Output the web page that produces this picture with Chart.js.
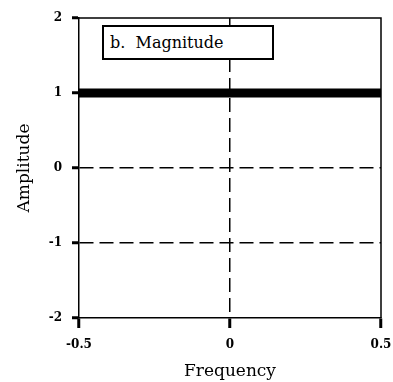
<!DOCTYPE html>
<html>
<head>
<meta charset="utf-8">
<script src="https://cdn.jsdelivr.net/npm/chart.js@4"></script>
<style>
  html, body { margin: 0; padding: 0; background: #fff; }
  #wrap { position: relative; width: 393px; height: 382px; }
  #legendBox {
    position: absolute; left: 102px; top: 25px; width: 162px; height: 31px;
    border: 2px solid #000; background: #fff;
    font-family: "DejaVu Serif", "Liberation Serif", serif; font-size: 16px;
    line-height: 31px; padding-left: 6px; box-sizing: content-box; white-space: pre;
    color: #000;
  }
</style>
</head>
<body>
<div id="wrap">
  <canvas id="c" width="393" height="382"></canvas>
  <div id="legendBox">b.  Magnitude</div>
</div>
<script>
// Frequency domain magnitude: flat at 1 across the whole band
const frequency = [-0.5, 0.5];
const magnitude = [1, 1];
const xTicks = [-0.5, 0, 0.5];
const yTicks = [-2, -1, 0, 1, 2];

const FONT = '"DejaVu Serif", "Liberation Serif", serif';

// Solid top and right edges of the plotting frame
const framePlugin = {
  id: 'frame',
  afterDraw(chart) {
    const { ctx, chartArea: a } = chart;
    ctx.save();
    ctx.strokeStyle = '#000';
    ctx.lineWidth = 1.5;
    ctx.setLineDash([]);
    ctx.beginPath();
    ctx.moveTo(a.left, a.top);
    ctx.lineTo(a.right, a.top);
    ctx.lineTo(a.right, a.bottom);
    ctx.stroke();
    ctx.restore();
  }
};

// Interior grid lines are dashed; the edges are left to the frame
const edgeAware = (vals) => (ctx) => {
  const v = ctx.tick ? ctx.tick.value : null;
  return (v === vals[0] || v === vals[vals.length - 1]) ? 'rgba(0,0,0,0)' : '#000';
};

new Chart(document.getElementById('c'), {
  type: 'line',
  data: {
    datasets: [{
      data: frequency.map((f, i) => ({ x: f, y: magnitude[i] })),
      borderColor: '#000',
      borderWidth: 9,
      pointRadius: 0,
      borderCapStyle: 'butt',
      clip: false,
      tension: 0
    }]
  },
  options: {
    responsive: false,
    animation: false,
    devicePixelRatio: 1,
    layout: { padding: { left: 0, right: 12, top: 18, bottom: 0 } },
    plugins: { legend: { display: false }, tooltip: { enabled: false } },
    scales: {
      x: {
        type: 'linear',
        min: xTicks[0],
        max: xTicks[xTicks.length - 1],
        afterBuildTicks: (s) => { s.ticks = xTicks.map(v => ({ value: v })); },
        afterFit: (s) => { s.height = 64; s.paddingLeft = 0; s.paddingRight = 0; },
        grid: {
          color: edgeAware(xTicks),
          lineWidth: 1.5,
          tickColor: '#000',
          tickLength: 10,
          tickWidth: 3
        },
        border: { display: true, color: '#000', width: 1.5, dash: [14, 6] },
        ticks: {
          color: '#000',
          padding: 10,
          maxRotation: 0,
          font: { family: FONT, size: 12, weight: 'bold' }
        },
        title: {
          display: true,
          text: 'Frequency',
          color: '#000',
          padding: { top: 1, bottom: 0 },
          font: { family: FONT, size: 17 }
        }
      },
      y: {
        type: 'linear',
        min: yTicks[0],
        max: yTicks[yTicks.length - 1],
        afterBuildTicks: (s) => { s.ticks = yTicks.map(v => ({ value: v })); },
        afterFit: (s) => { s.width = 79; s.paddingTop = 0; s.paddingBottom = 0; },
        grid: {
          color: edgeAware(yTicks),
          lineWidth: 1.5,
          tickColor: '#000',
          tickLength: 7,
          tickWidth: 3
        },
        border: { display: true, color: '#000', width: 1.5, dash: [14, 6] },
        ticks: {
          color: '#000',
          padding: 10,
          font: { family: FONT, size: 12, weight: 'bold' }
        },
        title: {
          display: true,
          text: 'Amplitude',
          color: '#000',
          padding: { top: 14, bottom: 8 },
          font: { family: FONT, size: 17 }
        }
      }
    }
  },
  plugins: [framePlugin]
});
</script>
</body>
</html>
